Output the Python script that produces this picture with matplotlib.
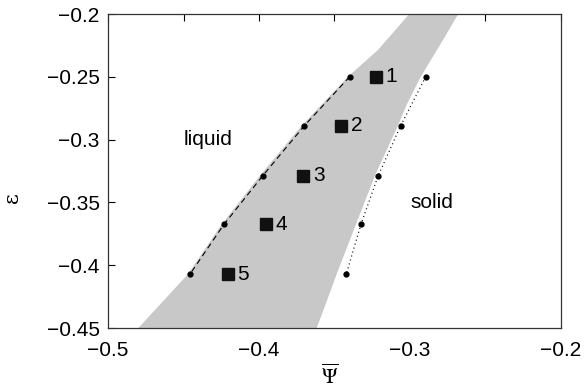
import matplotlib
matplotlib.use('Agg')
import matplotlib.pyplot as plt
import numpy as np

plt.rcParams['font.family'] = ['Liberation Sans', 'DejaVu Sans']
plt.rcParams['mathtext.fontset'] = 'stix'

# coexistence region (grey band), left and right edges
left_psi = [-0.4799, -0.4470, -0.4247, -0.3993, -0.3717, -0.3411, -0.3212, -0.3005]
left_eps = [-0.45, -0.4071, -0.3675, -0.3286, -0.2889, -0.25, -0.2286, -0.2]
right_psi = [-0.2680, -0.2801, -0.2929, -0.3022, -0.3077, -0.3232, -0.3358, -0.3483, -0.3563, -0.3618]
right_eps = [-0.2, -0.2246, -0.25, -0.2722, -0.2881, -0.3286, -0.3675, -0.4063, -0.4325, -0.45]

# eps levels of the simulated points
eps_levels = [-0.25, -0.289, -0.3286, -0.3675, -0.4071]
liquid_psi = [-0.340, -0.370, -0.3974, -0.4232, -0.4457]
solid_psi = [-0.2896, -0.3062, -0.3210, -0.3325, -0.3422]
square_psi = [-0.3225, -0.3455, -0.3707, -0.3956, -0.4207]
square_labels = ['1', '2', '3', '4', '5']

fig = plt.figure(figsize=(5.84, 3.90), dpi=100)
ax = fig.add_axes([108 / 584, 1 - 328 / 390, 453 / 584, 314 / 390])

band_x = left_psi + right_psi
band_y = left_eps + right_eps
ax.fill(band_x, band_y, color='#c8c8c9', lw=0, zorder=1)

ax.plot(liquid_psi, eps_levels, color='k', ls=(0, (5, 3.5)), lw=0.8, zorder=2)
ax.plot(liquid_psi, eps_levels, 'o', color='k', ms=3.5, zorder=3)
ax.plot(solid_psi, eps_levels, color='k', ls=(0, (0.8, 2.5)), lw=0.9, zorder=2)
ax.plot(solid_psi, eps_levels, 'o', color='k', ms=3.5, zorder=3)

ax.plot(square_psi, eps_levels, 's', color='#111111', ms=8, zorder=3)
for px, py, lab in zip(square_psi, eps_levels, square_labels):
    ax.annotate(lab, (px, py), xytext=(7, 0), textcoords='offset points',
                ha='left', va='center', fontsize=15)

ax.text(-0.4338, -0.3, 'liquid', fontsize=15, ha='center', va='center')
ax.text(-0.2854, -0.35, 'solid', fontsize=15, ha='center', va='center')

ax.set_xlim(-0.5, -0.2)
ax.set_ylim(-0.45, -0.2)

ax.set_xticks([-0.5, -0.4, -0.3, -0.2])
ax.set_xticklabels(['\u22120.5', '\u22120.4', '\u22120.3', '\u22120.2'])
ax.set_yticks([-0.45, -0.4, -0.35, -0.3, -0.25, -0.2])
ax.set_yticklabels(['\u22120.45', '\u22120.4', '\u22120.35', '\u22120.3', '\u22120.25', '\u22120.2'])
ax.tick_params(axis='x', bottom=False, length=0, labelsize=15, pad=9)
ax.tick_params(axis='y', direction='in', length=5, width=0.8, labelsize=15, pad=6, right=False)

# top ticks every 0.05
top = ax.secondary_xaxis('top')
top.set_xticks(np.arange(-0.5, -0.199, 0.05))
top.tick_params(direction='in', length=5, width=0.8, labeltop=False)
top.spines['top'].set_visible(False)

for s in ax.spines.values():
    s.set_linewidth(0.9)
    s.set_color('#333333')

ax.set_xlabel(r'$\overline{\Psi}$', fontsize=15)
ax.xaxis.set_label_coords(0.49, -0.112)
ax.set_ylabel('\u03b5', fontsize=15, family=['DejaVu Serif'])
ax.yaxis.set_label_coords(-0.19, 0.414)

plt.savefig('out.png', dpi=100)
plt.close()
